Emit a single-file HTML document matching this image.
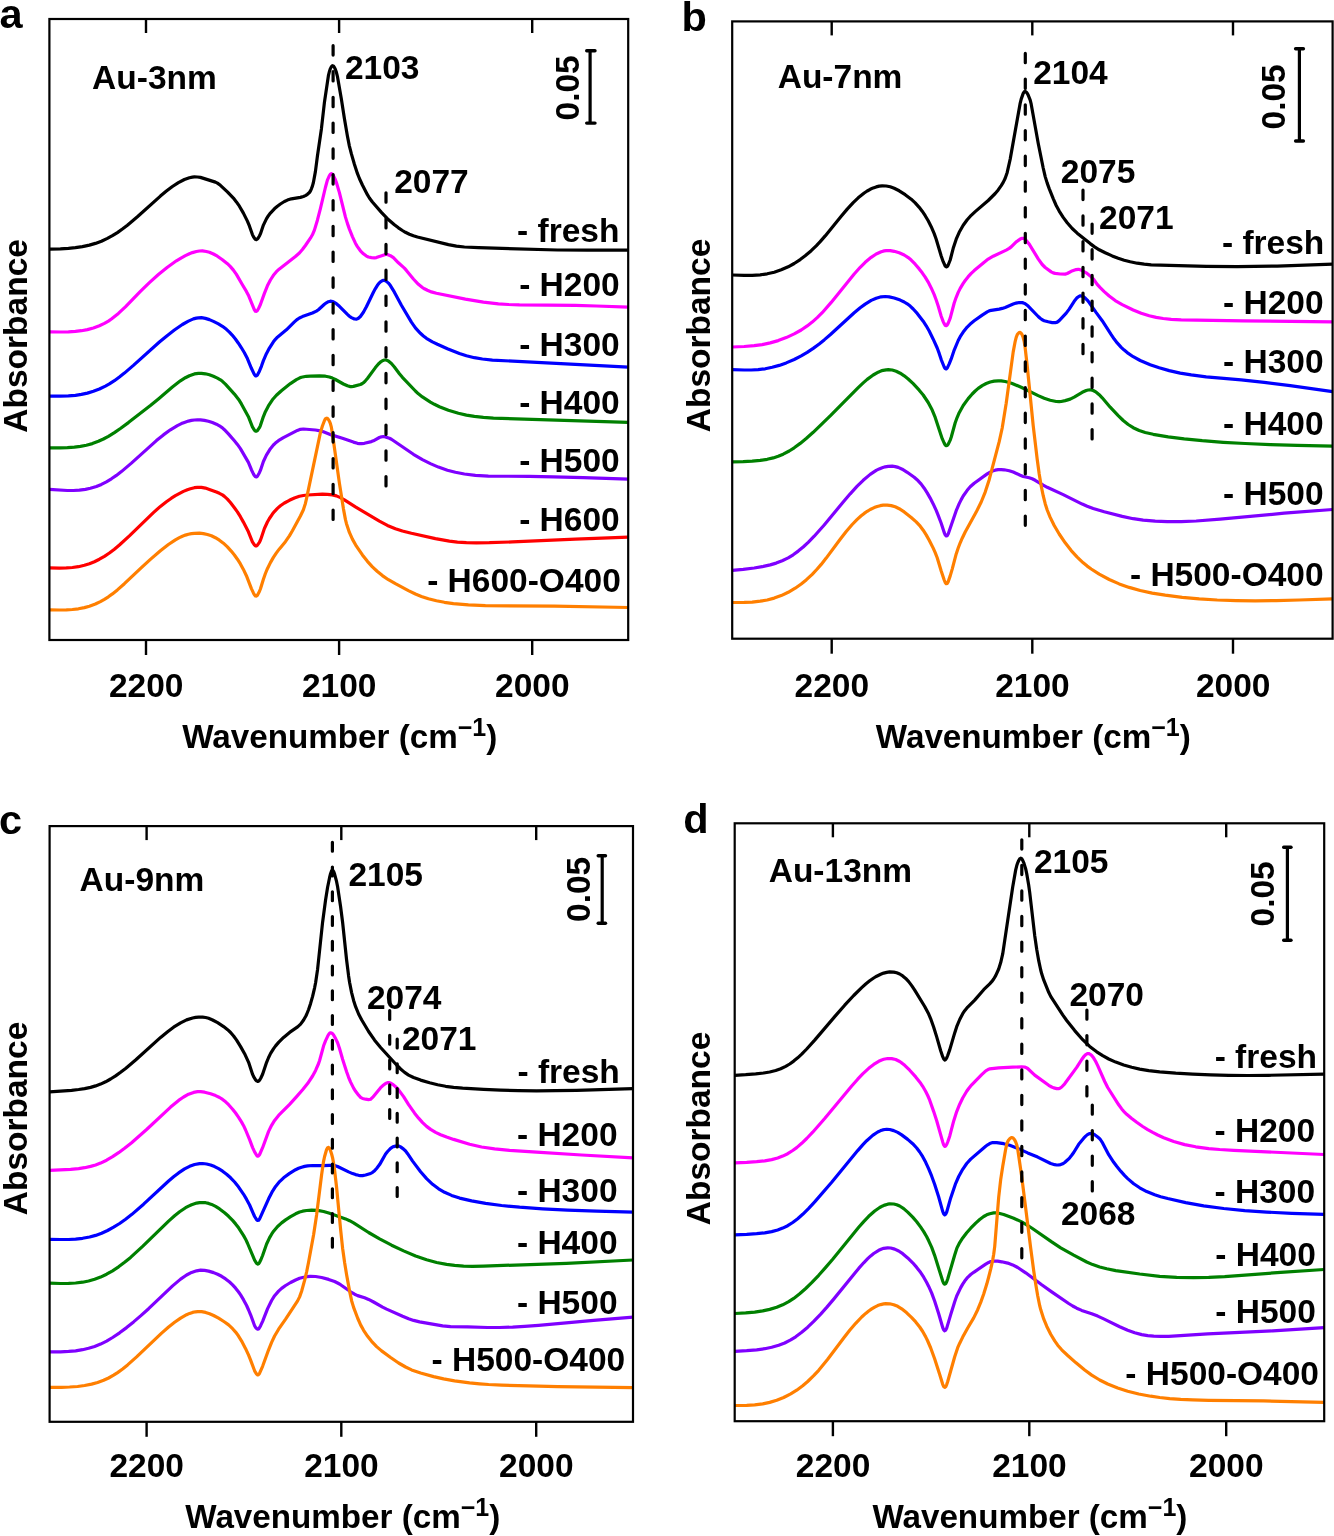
<!DOCTYPE html><html><head><meta charset="utf-8"><style>html,body{margin:0;padding:0;background:#fff}svg{display:block;will-change:transform}</style></head><body>
<svg width="1334" height="1536" viewBox="0 0 1334 1536" font-family="Liberation Sans, sans-serif" font-weight="bold" fill="#000">
<g id="panel-a">
<path d="M49.4,249.1 60.4,248.8 68.4,248.3 75.4,247.7 82.4,246.6 89.4,245.1 95.4,243.4 101.4,241.2 107.4,238.4 112.4,235.7 117.4,232.6 122.4,229.0 127.4,225.2 137.4,216.8 160.4,196.1 166.4,191.1 172.4,186.5 178.4,182.6 184.4,179.5 189.4,177.7 192.4,177.1 194.4,176.9 197.4,177.0 200.4,177.4 215.4,182.1 217.4,183.1 220.4,185.3 227.4,191.8 233.4,198.1 236.4,201.9 239.4,206.2 243.4,213.1 247.4,221.1 249.4,225.9 252.4,234.6 253.4,236.6 254.4,238.2 255.4,239.3 256.4,239.6 257.4,239.0 258.4,237.7 259.4,236.0 260.4,233.9 263.4,225.1 266.4,218.9 268.4,215.7 270.4,213.1 274.4,208.8 277.4,206.2 280.4,204.0 284.4,201.5 287.4,200.1 291.4,198.8 300.4,197.4 303.4,196.5 305.4,195.6 307.4,194.3 309.4,192.5 310.4,191.0 311.4,188.8 312.4,186.1 313.4,182.5 315.4,171.6 317.4,156.3 321.4,128.9 324.4,102.6 328.4,75.7 329.4,71.5 330.4,68.6 331.4,66.6 332.4,65.7 333.4,66.0 334.4,67.4 335.4,69.5 336.4,72.3 337.4,76.3 341.4,99.2 344.4,118.6 347.4,135.9 349.4,146.1 351.4,153.9 354.4,164.2 357.4,173.4 359.4,178.5 362.4,185.0 367.4,194.7 369.4,198.0 372.4,202.0 381.4,212.4 387.4,218.7 394.4,224.8 398.4,227.8 402.4,230.5 405.4,232.3 409.4,234.2 413.4,235.8 417.4,237.0 448.4,244.6 456.4,246.1 464.4,247.0 478.4,247.7 557.4,250.0 587.4,250.2 628.2,250.1" fill="none" stroke="#000000" stroke-width="3.2" stroke-linejoin="round"/>
<path d="M49.4,331.9 60.4,332.0 68.4,331.9 75.4,331.4 81.4,330.7 87.4,329.6 93.4,328.0 99.4,325.8 104.4,323.4 108.4,321.1 111.4,319.0 118.4,313.4 125.4,306.8 140.4,291.4 149.4,282.6 158.4,274.5 167.4,267.2 176.4,260.8 181.4,257.8 185.4,255.6 189.4,253.7 192.4,252.6 196.4,251.5 199.4,251.0 202.4,250.9 206.4,251.5 209.4,252.3 213.4,254.0 217.4,256.2 222.4,259.7 227.4,263.7 230.4,266.6 233.4,270.1 236.4,274.4 242.4,284.8 246.4,291.4 248.4,295.2 254.4,309.8 255.4,311.2 256.4,311.4 257.4,310.5 258.4,308.8 260.4,304.5 264.4,293.4 267.4,285.8 270.4,280.0 273.4,275.3 276.4,271.7 279.4,268.9 295.4,256.5 299.4,253.0 302.4,249.5 305.4,245.5 310.4,238.2 312.4,234.8 314.4,230.1 317.4,220.2 320.4,208.6 325.4,187.5 327.4,180.1 329.4,175.6 330.4,174.2 331.4,173.7 332.4,174.2 333.4,175.7 335.4,179.8 336.4,182.5 339.4,192.6 345.4,216.9 347.4,223.4 349.4,229.1 352.4,236.6 355.4,243.2 357.4,246.6 360.4,250.8 363.4,253.8 366.4,256.1 368.4,257.0 371.4,257.6 374.4,257.9 376.4,257.6 385.4,254.4 387.4,254.5 390.4,255.7 393.4,257.7 398.4,262.8 404.4,268.1 406.4,270.4 413.4,279.0 418.4,284.3 422.4,287.5 424.4,288.8 427.4,290.3 431.4,291.9 436.4,293.2 465.4,299.1 483.4,302.2 498.4,303.9 508.4,304.5 519.4,304.9 575.4,305.4 596.4,306.0 628.2,307.2" fill="none" stroke="#FF00FF" stroke-width="3.2" stroke-linejoin="round"/>
<path d="M49.4,396.2 60.4,396.2 68.4,395.9 75.4,395.3 81.4,394.4 87.4,393.1 93.4,391.3 99.4,389.0 105.4,386.1 109.4,383.9 114.4,380.7 119.4,377.0 124.4,373.1 133.4,365.4 159.4,342.0 167.4,335.4 174.4,330.0 182.4,324.5 188.4,321.1 193.4,318.9 196.4,318.1 198.4,317.8 201.4,317.7 205.4,318.4 209.4,319.6 213.4,321.4 218.4,323.9 222.4,326.3 226.4,329.3 229.4,332.1 232.4,335.3 235.4,339.0 238.4,343.2 241.4,347.8 244.4,352.8 247.4,358.6 251.4,368.3 254.4,374.6 255.4,375.8 256.4,375.9 257.4,375.0 259.4,371.2 261.4,366.3 263.4,360.6 266.4,353.7 269.4,348.1 273.4,341.8 275.4,339.3 277.4,337.2 286.4,329.8 294.4,321.9 297.4,319.3 299.4,318.0 302.4,316.6 312.4,313.0 316.4,311.1 318.4,309.7 324.4,304.3 326.4,302.8 328.4,301.7 330.4,301.2 331.4,301.3 333.4,301.9 336.4,303.7 339.4,306.3 347.4,314.4 349.4,316.2 351.4,317.6 354.4,319.0 356.4,319.1 357.4,318.8 358.4,318.3 360.4,316.5 363.4,312.3 366.4,306.8 373.4,292.3 375.4,288.6 377.4,285.3 379.4,282.8 380.4,281.8 382.4,280.6 383.4,280.4 384.4,280.4 386.4,281.4 388.4,283.1 390.4,285.6 394.4,292.2 401.4,305.2 411.4,322.1 415.4,327.8 420.4,333.3 423.4,336.0 426.4,338.3 432.4,341.9 437.4,344.3 447.4,348.7 459.4,353.5 466.4,355.8 474.4,357.7 482.4,359.0 492.4,360.1 628.2,367.1" fill="none" stroke="#0000FF" stroke-width="3.2" stroke-linejoin="round"/>
<path d="M49.4,447.9 60.4,447.9 67.4,447.7 74.4,447.2 80.4,446.4 86.4,445.2 92.4,443.6 98.4,441.3 103.4,439.0 108.4,436.3 114.4,432.6 120.4,428.5 128.4,422.6 150.4,405.5 158.4,398.9 172.4,387.0 180.4,380.8 185.4,377.7 189.4,375.7 194.4,373.9 198.4,373.3 201.4,373.3 205.4,373.8 209.4,374.8 213.4,376.3 217.4,378.1 220.4,379.8 222.4,381.3 225.4,384.1 234.4,394.1 239.4,400.6 241.4,403.9 248.4,416.7 252.4,426.9 254.4,430.1 255.4,431.1 256.4,431.2 257.4,430.6 259.4,427.7 260.4,425.6 263.4,416.6 265.4,411.7 268.4,405.9 272.4,399.8 276.4,395.3 281.4,390.7 290.4,383.6 296.4,379.6 299.4,378.1 301.4,377.3 306.4,376.3 310.4,376.1 319.4,375.9 325.4,376.2 329.4,377.0 332.4,378.1 335.4,379.5 343.4,384.0 347.4,385.8 350.4,386.6 351.4,386.7 353.4,386.4 360.4,384.5 362.4,383.5 363.4,382.8 365.4,380.8 367.4,378.5 375.4,367.6 378.4,364.0 380.4,362.1 382.4,360.7 384.4,360.0 385.4,360.0 386.4,360.1 388.4,361.0 391.4,363.5 394.4,367.0 399.4,373.7 402.4,377.3 415.4,391.0 418.4,393.8 422.4,396.9 430.4,402.1 434.4,404.3 439.4,406.7 448.4,410.3 458.4,413.3 466.4,415.1 474.4,416.4 483.4,417.4 493.4,418.1 628.2,422.3" fill="none" stroke="#008000" stroke-width="3.2" stroke-linejoin="round"/>
<path d="M49.4,489.3 67.4,490.5 73.4,490.5 79.4,490.2 85.4,489.4 90.4,488.3 96.4,486.5 101.4,484.4 106.4,481.8 111.4,478.8 116.4,475.4 121.4,471.6 131.4,463.1 156.4,440.6 163.4,434.9 170.4,429.8 177.4,425.6 181.4,423.6 184.4,422.4 188.4,421.1 191.4,420.4 194.4,420.0 197.4,419.9 200.4,419.9 204.4,420.4 208.4,421.3 212.4,422.6 216.4,424.2 219.4,425.8 222.4,427.9 224.4,429.7 228.4,433.9 234.4,440.8 237.4,444.4 240.4,448.6 248.4,462.4 251.4,469.7 253.4,473.9 254.4,475.6 255.4,476.8 256.4,477.0 257.4,476.2 259.4,472.7 260.4,470.4 263.4,461.5 266.4,455.1 270.4,448.7 273.4,445.0 275.4,443.1 278.4,440.7 283.4,437.6 297.4,430.4 300.4,429.3 303.4,429.0 315.4,430.0 320.4,430.9 323.4,431.8 331.4,434.9 342.4,438.3 353.4,442.1 357.4,443.3 359.4,443.6 361.4,443.7 364.4,443.3 371.4,441.6 373.4,440.8 379.4,437.5 381.4,436.8 383.4,436.5 385.4,436.9 389.4,438.3 391.4,439.3 413.4,454.3 422.4,459.6 430.4,463.6 438.4,467.1 447.4,470.2 455.4,472.3 464.4,474.0 475.4,475.4 488.4,476.1 529.4,476.4 553.4,476.8 583.4,477.6 628.2,479.1" fill="none" stroke="#7F00FF" stroke-width="3.2" stroke-linejoin="round"/>
<path d="M49.4,567.9 59.4,568.1 66.4,567.9 72.4,567.5 78.4,566.7 84.4,565.3 89.4,563.8 94.4,561.7 99.4,559.2 104.4,556.3 109.4,553.0 114.4,549.2 119.4,545.0 129.4,535.9 153.4,512.6 160.4,506.4 166.4,501.7 171.4,498.2 175.4,495.7 183.4,491.4 187.4,489.7 190.4,488.7 194.4,487.7 197.4,487.4 201.4,487.4 205.4,488.1 209.4,489.4 216.4,492.0 219.4,493.3 222.4,494.9 224.4,496.4 227.4,499.1 230.4,502.5 234.4,507.7 237.4,511.9 240.4,516.7 243.4,522.1 248.4,531.8 252.4,541.8 254.4,544.9 255.4,545.8 256.4,545.9 257.4,545.2 259.4,542.3 260.4,540.3 261.4,537.5 264.4,528.5 267.4,522.0 269.4,518.5 272.4,514.1 274.4,511.6 277.4,508.4 280.4,505.8 284.4,503.0 289.4,500.3 294.4,498.0 299.4,496.3 303.4,495.5 307.4,495.0 322.4,494.2 327.4,494.3 332.4,494.9 336.4,495.9 340.4,497.6 344.4,499.8 355.4,506.9 379.4,521.2 387.4,525.4 395.4,528.7 402.4,531.0 411.4,533.3 435.4,538.6 449.4,541.1 457.4,542.1 466.4,542.6 476.4,542.8 489.4,542.7 512.4,541.9 575.4,539.1 628.2,537.2" fill="none" stroke="#FF0000" stroke-width="3.2" stroke-linejoin="round"/>
<path d="M49.4,609.8 59.4,610.0 66.4,609.9 72.4,609.5 78.4,608.8 84.4,607.6 89.4,606.2 95.4,604.0 100.4,601.6 104.4,599.3 108.4,596.8 112.4,593.9 117.4,589.9 124.4,583.7 141.4,567.6 150.4,559.4 160.4,550.8 168.4,544.5 175.4,539.8 179.4,537.6 182.4,536.2 185.4,535.1 188.4,534.2 191.4,533.6 194.4,533.3 199.4,533.2 203.4,533.6 207.4,534.5 211.4,535.8 215.4,537.7 219.4,540.2 223.4,543.2 227.4,546.9 231.4,551.3 234.4,555.0 237.4,559.2 240.4,563.9 243.4,569.4 246.4,575.7 251.4,588.6 253.4,592.9 254.4,594.8 255.4,596.0 256.4,596.1 257.4,595.2 259.4,591.5 260.4,589.0 263.4,579.2 265.4,573.5 267.4,568.7 270.4,562.6 273.4,557.4 276.4,552.9 279.4,548.9 285.4,541.7 289.4,535.9 292.4,530.7 300.4,516.0 303.4,509.7 305.4,503.4 306.4,499.1 320.4,432.6 322.4,426.0 324.4,420.7 325.4,418.9 326.4,418.2 327.4,418.4 328.4,419.5 329.4,421.2 330.4,423.6 331.4,427.4 332.4,433.5 339.4,483.1 343.4,508.6 345.4,519.4 346.4,523.4 349.4,532.4 352.4,539.1 356.4,546.2 362.4,554.9 367.4,561.3 372.4,566.8 377.4,571.5 382.4,575.6 388.4,579.7 395.4,583.7 408.4,590.6 415.4,594.0 421.4,596.4 428.4,598.8 436.4,600.8 444.4,602.3 453.4,603.6 468.4,604.9 485.4,605.6 554.4,606.2 628.2,607.5" fill="none" stroke="#FF7F00" stroke-width="3.2" stroke-linejoin="round"/>
<line x1="333.1" y1="45.7" x2="333.1" y2="519.8" stroke="#000" stroke-width="3.2" stroke-linecap="round" stroke-dasharray="9.38 16.42" fill="none"/>
<line x1="386.0" y1="192.8" x2="386.0" y2="486.0" stroke="#000" stroke-width="3.2" stroke-linecap="round" stroke-dasharray="9.38 16.42" fill="none"/>
<rect x="49.4" y="19.0" width="578.8" height="621.0" fill="none" stroke="#000" stroke-width="2.2"/>
<line x1="146.0" y1="19.0" x2="146.0" y2="33.0" stroke="#000" stroke-width="2.4"/>
<line x1="146.0" y1="640.0" x2="146.0" y2="655.0" stroke="#000" stroke-width="2.4"/>
<line x1="339.1" y1="19.0" x2="339.1" y2="33.0" stroke="#000" stroke-width="2.4"/>
<line x1="339.1" y1="640.0" x2="339.1" y2="655.0" stroke="#000" stroke-width="2.4"/>
<line x1="532.2" y1="19.0" x2="532.2" y2="33.0" stroke="#000" stroke-width="2.4"/>
<line x1="532.2" y1="640.0" x2="532.2" y2="655.0" stroke="#000" stroke-width="2.4"/>
<text x="108.88" y="696.70" font-size="33.5">2200</text>
<text x="301.98" y="696.70" font-size="33.5">2100</text>
<text x="495.08" y="696.70" font-size="33.5">2000</text>
<text x="182.25" y="748.3" font-size="33.2">Wavenumber (cm<tspan font-size="25" dy="-12.6">−1</tspan><tspan dy="12.6">)</tspan></text>
<text transform="translate(27.32,432.68) rotate(-90)" font-size="33.5">Absorbance</text>
<text x="-0.55" y="27.90" font-size="41.5">a</text>
<text x="92.12" y="89.20" font-size="33.5">Au-3nm</text>
<text x="344.88" y="79.40" font-size="33.5">2103</text>
<text x="394.18" y="192.70" font-size="33.5">2077</text>
<text x="517.05" y="241.70" font-size="33.5">- fresh</text>
<text x="519.17" y="296.00" font-size="33.5">- H200</text>
<text x="519.17" y="355.90" font-size="33.5">- H300</text>
<text x="519.17" y="413.90" font-size="33.5">- H400</text>
<text x="519.17" y="471.50" font-size="33.5">- H500</text>
<text x="519.17" y="530.70" font-size="33.5">- H600</text>
<text x="427.15" y="591.90" font-size="33.5">- H600-O400</text>
<line x1="590.1" y1="50.8" x2="590.1" y2="123.1" stroke="#000" stroke-width="3.2"/>
<line x1="586.7" y1="50.8" x2="595.0" y2="50.8" stroke="#000" stroke-width="3.4" stroke-linecap="round"/>
<line x1="586.7" y1="123.1" x2="595.0" y2="123.1" stroke="#000" stroke-width="3.4" stroke-linecap="round"/>
<text transform="translate(579.02,120.45) rotate(-90)" font-size="33.5">0.05</text>
</g>
<g id="panel-b">
<path d="M732.2,275.0 744.2,275.4 752.2,275.4 760.2,274.8 767.2,273.8 774.2,272.2 781.2,269.8 788.2,266.8 794.2,263.5 800.2,259.6 805.2,255.8 811.2,250.7 816.2,245.8 820.2,241.6 825.2,235.9 841.2,216.2 847.2,209.1 853.2,202.6 858.2,197.8 864.2,193.0 867.2,191.0 870.2,189.3 873.2,187.9 876.2,186.9 879.2,186.1 882.2,185.8 886.2,186.0 890.2,186.8 894.2,188.3 899.2,190.8 905.2,194.7 911.2,199.2 915.2,202.9 919.2,207.3 922.2,211.2 925.2,215.7 928.2,220.8 931.2,226.7 934.2,233.6 936.2,239.2 941.2,256.0 943.2,261.7 945.2,266.0 946.2,266.9 947.2,266.5 948.2,265.0 950.2,260.0 953.2,248.3 956.2,239.2 959.2,232.3 963.2,225.3 967.2,219.8 971.2,215.3 975.2,211.6 988.2,200.5 995.2,193.5 998.2,189.9 1001.2,185.6 1003.2,182.4 1005.2,178.3 1007.2,172.4 1010.2,159.1 1020.2,103.1 1021.2,99.1 1023.2,93.4 1024.2,91.8 1025.2,91.4 1026.2,92.0 1027.2,93.3 1028.2,95.1 1030.2,100.1 1031.2,104.2 1038.2,143.2 1043.2,168.0 1045.2,176.6 1047.2,183.1 1049.2,188.6 1053.2,198.6 1056.2,205.5 1059.2,211.1 1063.2,217.4 1067.2,222.7 1072.2,228.5 1077.2,233.2 1090.2,243.6 1094.2,246.6 1099.2,249.8 1105.2,252.8 1112.2,255.9 1118.2,258.3 1124.2,260.2 1130.2,261.8 1137.2,263.2 1144.2,264.2 1151.2,264.8 1206.2,266.4 1237.2,266.7 1277.2,266.1 1332.6,264.2" fill="none" stroke="#000000" stroke-width="3.2" stroke-linejoin="round"/>
<path d="M732.2,347.0 744.2,346.5 754.2,345.7 762.2,344.6 770.2,342.9 778.2,340.6 786.2,337.6 794.2,333.9 801.2,330.0 807.2,325.9 812.2,322.1 817.2,317.6 822.2,312.7 831.2,302.4 854.2,274.0 860.2,267.3 865.2,262.3 871.2,257.3 876.2,254.0 881.2,251.7 884.2,250.9 886.2,250.6 890.2,250.6 894.2,251.3 899.2,252.8 904.2,255.0 908.2,257.6 911.2,260.1 915.2,264.2 919.2,268.9 922.2,272.8 925.2,277.2 928.2,282.1 931.2,287.9 934.2,294.6 936.2,300.0 938.2,306.0 941.2,316.2 943.2,321.6 944.2,323.7 945.2,325.3 946.2,325.7 947.2,324.9 948.2,323.1 950.2,318.1 954.2,303.0 956.2,297.3 958.2,292.4 960.2,288.4 963.2,283.4 965.2,280.5 968.2,276.7 971.2,273.4 974.2,270.6 984.2,262.2 988.2,259.1 993.2,256.2 1006.2,250.1 1009.2,248.4 1011.2,246.9 1016.2,241.8 1020.2,239.1 1022.2,238.3 1023.2,238.3 1024.2,238.7 1025.2,239.4 1029.2,244.1 1038.2,258.8 1042.2,264.5 1045.2,267.5 1051.2,271.9 1053.2,272.9 1055.2,273.4 1060.2,274.0 1065.2,274.1 1067.2,273.5 1071.2,271.3 1076.2,269.6 1078.2,269.3 1079.2,269.4 1081.2,270.1 1086.2,272.8 1090.2,275.9 1093.2,278.8 1097.2,284.4 1100.2,287.7 1104.2,291.6 1109.2,296.0 1115.2,300.6 1122.2,304.6 1133.2,310.0 1141.2,313.3 1149.2,315.8 1156.2,317.4 1163.2,318.5 1171.2,319.3 1181.2,319.8 1243.2,320.9 1332.6,321.9" fill="none" stroke="#FF00FF" stroke-width="3.2" stroke-linejoin="round"/>
<path d="M732.2,369.6 744.2,370.0 751.2,370.0 758.2,369.6 765.2,368.8 772.2,367.3 779.2,365.4 786.2,362.9 794.2,359.5 801.2,355.9 807.2,352.4 813.2,348.4 819.2,344.0 824.2,339.9 830.2,334.7 854.2,312.8 860.2,307.8 865.2,304.1 871.2,300.4 876.2,298.2 881.2,296.8 885.2,296.5 889.2,296.9 894.2,298.0 900.2,300.1 904.2,302.0 907.2,303.8 910.2,306.1 913.2,309.0 917.2,313.4 923.2,321.2 926.2,325.8 929.2,331.0 933.2,339.2 937.2,348.0 939.2,353.4 941.2,359.6 944.2,367.0 945.2,368.5 946.2,368.9 947.2,368.1 949.2,363.9 951.2,358.9 954.2,350.1 958.2,340.5 960.2,336.7 963.2,332.1 967.2,327.1 971.2,323.2 974.2,320.8 982.2,315.1 987.2,311.9 989.2,310.9 991.2,310.3 999.2,309.1 1002.2,308.4 1005.2,307.4 1013.2,304.1 1016.2,303.1 1019.2,302.5 1022.2,302.6 1023.2,302.9 1025.2,303.8 1028.2,306.1 1038.2,316.5 1040.2,318.3 1042.2,319.8 1044.2,320.7 1048.2,321.8 1052.2,322.6 1055.2,322.7 1057.2,322.1 1059.2,320.6 1066.2,313.1 1069.2,309.1 1074.2,301.3 1077.2,297.6 1079.2,296.2 1080.2,295.9 1081.2,295.9 1083.2,296.6 1085.2,298.1 1087.2,300.1 1089.2,302.6 1096.2,312.6 1102.2,320.7 1111.2,334.7 1114.2,339.1 1117.2,342.9 1121.2,347.3 1124.2,350.1 1127.2,352.6 1133.2,356.7 1140.2,360.5 1150.2,364.7 1159.2,367.8 1169.2,370.6 1180.2,373.1 1191.2,374.9 1206.2,376.8 1241.2,379.9 1264.2,382.3 1290.2,385.7 1332.6,391.7" fill="none" stroke="#0000FF" stroke-width="3.2" stroke-linejoin="round"/>
<path d="M732.2,461.9 743.2,461.6 752.2,461.1 760.2,460.4 767.2,459.3 773.2,457.9 778.2,456.3 783.2,454.2 789.2,451.0 794.2,447.8 800.2,443.4 806.2,438.5 813.2,432.3 830.2,415.9 858.2,387.6 863.2,382.9 867.2,379.4 873.2,375.0 878.2,372.2 881.2,370.9 883.2,370.3 886.2,369.8 888.2,369.7 892.2,370.0 896.2,371.2 900.2,373.2 904.2,375.8 908.2,379.0 913.2,383.7 919.2,390.2 923.2,395.0 928.2,402.5 932.2,410.1 935.2,417.4 942.2,438.7 944.2,443.1 945.2,444.9 946.2,445.7 947.2,445.5 948.2,444.3 950.2,440.1 951.2,437.3 955.2,422.8 957.2,417.3 959.2,412.7 963.2,405.5 968.2,398.6 972.2,394.0 975.2,391.0 978.2,388.4 982.2,385.6 986.2,383.5 990.2,382.0 994.2,381.1 998.2,380.8 1001.2,380.9 1005.2,381.5 1008.2,382.2 1012.2,383.5 1021.2,387.3 1038.2,395.6 1044.2,398.3 1050.2,400.3 1056.2,401.5 1059.2,401.7 1061.2,401.5 1065.2,400.6 1070.2,399.1 1074.2,397.1 1082.2,392.3 1086.2,390.5 1088.2,390.0 1090.2,389.8 1091.2,389.9 1093.2,390.5 1096.2,392.2 1099.2,394.7 1102.2,397.8 1110.2,407.2 1118.2,415.6 1123.2,420.5 1128.2,424.5 1133.2,427.7 1139.2,430.5 1145.2,432.5 1153.2,434.3 1168.2,436.8 1184.2,438.9 1202.2,440.7 1223.2,442.3 1245.2,443.5 1270.2,444.6 1297.2,445.3 1332.6,446.1" fill="none" stroke="#008000" stroke-width="3.2" stroke-linejoin="round"/>
<path d="M732.2,570.3 743.2,569.3 754.2,568.0 762.2,566.7 770.2,564.9 776.2,563.1 782.2,560.8 788.2,557.9 793.2,554.8 798.2,551.1 803.2,547.0 808.2,542.3 814.2,536.2 824.2,525.0 843.2,502.0 850.2,493.8 857.2,486.2 863.2,480.3 870.2,474.4 876.2,470.4 879.2,468.9 882.2,467.7 885.2,466.8 888.2,466.3 892.2,466.2 895.2,466.6 898.2,467.4 902.2,469.2 907.2,472.3 914.2,477.3 918.2,480.8 921.2,484.1 924.2,488.2 927.2,492.9 930.2,498.1 933.2,503.9 936.2,510.4 938.2,515.4 941.2,523.3 944.2,532.5 945.2,534.8 946.2,535.9 947.2,535.6 948.2,534.0 956.2,510.7 959.2,503.6 961.2,499.6 963.2,496.0 967.2,490.3 970.2,486.8 974.2,483.2 987.2,473.9 990.2,472.1 993.2,470.8 995.2,470.2 998.2,469.7 1001.2,469.6 1004.2,469.8 1009.2,470.7 1013.2,472.0 1020.2,475.3 1023.2,476.5 1029.2,477.8 1032.2,478.8 1035.2,480.3 1043.2,485.2 1047.2,487.3 1063.2,494.6 1082.2,504.1 1087.2,506.2 1093.2,508.5 1104.2,511.8 1122.2,516.4 1133.2,518.7 1143.2,520.2 1155.2,521.2 1167.2,521.7 1181.2,521.6 1196.2,521.0 1220.2,519.2 1284.2,513.2 1332.6,509.5" fill="none" stroke="#7F00FF" stroke-width="3.2" stroke-linejoin="round"/>
<path d="M732.2,602.5 744.2,602.4 752.2,602.1 760.2,601.2 767.2,600.0 774.2,598.1 781.2,595.6 788.2,592.3 795.2,588.2 801.2,584.0 806.2,579.9 812.2,574.3 817.2,569.0 821.2,564.4 826.2,558.1 840.2,539.3 846.2,531.5 852.2,524.5 857.2,519.4 861.2,515.8 864.2,513.4 867.2,511.3 870.2,509.5 874.2,507.6 877.2,506.5 880.2,505.7 883.2,505.2 887.2,505.1 891.2,505.6 895.2,506.8 899.2,508.7 904.2,511.9 911.2,517.5 916.2,521.9 920.2,526.2 923.2,530.2 926.2,534.9 929.2,540.2 933.2,548.1 935.2,552.6 937.2,557.8 941.2,571.0 944.2,580.0 945.2,582.4 946.2,583.7 947.2,583.4 948.2,581.6 950.2,575.9 952.2,569.1 956.2,553.9 958.2,548.0 960.2,542.8 962.2,538.2 965.2,532.0 976.2,512.1 981.2,502.0 985.2,492.1 989.2,479.7 999.2,441.7 1002.2,428.0 1006.2,403.2 1013.2,351.9 1015.2,341.3 1016.2,337.4 1017.2,334.8 1018.2,333.4 1019.2,332.6 1020.2,332.4 1021.2,333.2 1022.2,334.9 1023.2,337.5 1024.2,341.5 1025.2,348.2 1027.2,365.7 1033.2,425.7 1037.2,459.3 1039.2,474.0 1041.2,485.9 1043.2,495.7 1045.2,503.7 1047.2,510.0 1050.2,517.4 1054.2,525.5 1059.2,534.0 1065.2,542.8 1071.2,550.6 1077.2,557.1 1083.2,562.8 1087.2,566.1 1091.2,569.0 1099.2,574.2 1109.2,579.5 1119.2,583.9 1129.2,587.4 1140.2,590.5 1152.2,593.1 1165.2,595.2 1182.2,597.3 1199.2,598.9 1217.2,600.0 1236.2,600.6 1255.2,600.8 1276.2,600.6 1299.2,600.0 1332.6,598.8" fill="none" stroke="#FF7F00" stroke-width="3.2" stroke-linejoin="round"/>
<line x1="1025.3" y1="53.4" x2="1025.3" y2="525.4" stroke="#000" stroke-width="3.2" stroke-linecap="round" stroke-dasharray="9.34 16.36" fill="none"/>
<line x1="1083.0" y1="190.2" x2="1083.0" y2="353.9" stroke="#000" stroke-width="3.2" stroke-linecap="round" stroke-dasharray="9.34 16.36" fill="none"/>
<line x1="1092.1" y1="224.0" x2="1092.1" y2="438.9" stroke="#000" stroke-width="3.2" stroke-linecap="round" stroke-dasharray="9.34 16.36" fill="none"/>
<rect x="732.2" y="21.4" width="600.4" height="617.3" fill="none" stroke="#000" stroke-width="2.2"/>
<line x1="831.7" y1="21.4" x2="831.7" y2="35.4" stroke="#000" stroke-width="2.4"/>
<line x1="831.7" y1="638.7" x2="831.7" y2="653.7" stroke="#000" stroke-width="2.4"/>
<line x1="1032.3" y1="21.4" x2="1032.3" y2="35.4" stroke="#000" stroke-width="2.4"/>
<line x1="1032.3" y1="638.7" x2="1032.3" y2="653.7" stroke="#000" stroke-width="2.4"/>
<line x1="1233.0" y1="21.4" x2="1233.0" y2="35.4" stroke="#000" stroke-width="2.4"/>
<line x1="1233.0" y1="638.7" x2="1233.0" y2="653.7" stroke="#000" stroke-width="2.4"/>
<text x="794.58" y="696.70" font-size="33.5">2200</text>
<text x="995.17" y="696.70" font-size="33.5">2100</text>
<text x="1195.88" y="696.70" font-size="33.5">2000</text>
<text x="875.85" y="748.3" font-size="33.2">Wavenumber (cm<tspan font-size="25" dy="-12.6">−1</tspan><tspan dy="12.6">)</tspan></text>
<text transform="translate(710.12,432.27) rotate(-90)" font-size="33.5">Absorbance</text>
<text x="681.45" y="30.70" font-size="41.5">b</text>
<text x="777.73" y="88.40" font-size="33.5">Au-7nm</text>
<text x="1033.17" y="83.60" font-size="33.5">2104</text>
<text x="1060.78" y="182.80" font-size="33.5">2075</text>
<text x="1099.08" y="228.90" font-size="33.5">2071</text>
<text x="1221.95" y="254.00" font-size="33.5">- fresh</text>
<text x="1223.08" y="314.30" font-size="33.5">- H200</text>
<text x="1223.08" y="372.90" font-size="33.5">- H300</text>
<text x="1223.08" y="434.70" font-size="33.5">- H400</text>
<text x="1223.08" y="504.90" font-size="33.5">- H500</text>
<text x="1129.95" y="586.20" font-size="33.5">- H500-O400</text>
<line x1="1299.4" y1="48.7" x2="1299.4" y2="141.0" stroke="#000" stroke-width="3.2"/>
<line x1="1295.6" y1="48.7" x2="1303.4" y2="48.7" stroke="#000" stroke-width="3.4" stroke-linecap="round"/>
<line x1="1295.6" y1="141.0" x2="1303.4" y2="141.0" stroke="#000" stroke-width="3.4" stroke-linecap="round"/>
<text transform="translate(1285.03,129.45) rotate(-90)" font-size="33.5">0.05</text>
</g>
<g id="panel-c">
<path d="M49.6,1091.8 71.6,1090.3 78.6,1089.5 84.6,1088.6 90.6,1087.4 95.6,1085.9 100.6,1084.1 105.6,1081.8 110.6,1079.0 115.6,1075.9 120.6,1072.3 125.6,1068.5 135.6,1060.0 160.6,1037.4 167.6,1031.7 173.6,1027.2 180.6,1022.9 186.6,1019.9 192.6,1018.0 195.6,1017.4 198.6,1017.1 202.6,1017.1 205.6,1017.5 208.6,1018.3 212.6,1020.0 217.6,1022.7 223.6,1026.6 227.6,1029.7 230.6,1032.5 233.6,1036.0 236.6,1040.1 240.6,1046.6 244.6,1053.7 248.6,1062.3 252.6,1074.4 253.6,1076.6 255.6,1079.8 256.6,1080.9 257.6,1081.4 258.6,1081.1 259.6,1080.1 260.6,1078.5 262.6,1074.3 266.6,1062.3 268.6,1057.5 270.6,1053.4 273.6,1048.6 275.6,1045.9 278.6,1042.4 283.6,1037.4 289.6,1032.4 297.6,1026.9 300.6,1024.1 303.6,1020.0 305.6,1016.5 306.6,1014.5 308.6,1009.5 310.6,1003.4 312.6,996.4 314.6,987.8 315.6,982.7 317.6,969.2 322.6,922.2 325.6,899.7 327.6,887.2 329.6,877.5 330.6,873.5 331.6,870.8 332.6,870.1 333.6,871.4 334.6,874.1 336.6,881.7 337.6,886.7 340.6,906.7 342.6,922.3 346.6,960.0 348.6,975.9 349.6,982.5 351.6,992.6 353.6,1000.4 355.6,1006.7 358.6,1014.0 361.6,1019.8 368.6,1031.5 374.6,1040.2 380.6,1047.5 396.6,1065.0 400.6,1069.0 404.6,1072.4 408.6,1075.1 413.6,1077.5 420.6,1080.1 429.6,1082.7 437.6,1084.7 445.6,1086.3 453.6,1087.3 462.6,1088.1 483.6,1089.4 500.6,1090.1 518.6,1090.6 536.6,1090.8 555.6,1090.7 576.6,1090.3 633.0,1088.6" fill="none" stroke="#000000" stroke-width="3.2" stroke-linejoin="round"/>
<path d="M49.6,1170.3 70.6,1169.3 78.6,1168.6 84.6,1167.7 90.6,1166.4 95.6,1165.0 100.6,1163.1 106.6,1160.2 112.6,1156.7 118.6,1152.7 124.6,1148.3 131.6,1142.7 146.6,1129.5 170.6,1107.1 178.6,1100.4 183.6,1097.0 188.6,1094.2 193.6,1092.4 197.6,1091.7 200.6,1091.7 204.6,1092.2 210.6,1093.8 215.6,1095.6 219.6,1097.5 222.6,1099.4 225.6,1101.8 228.6,1104.7 232.6,1109.2 235.6,1113.0 238.6,1117.3 241.6,1122.1 243.6,1125.7 245.6,1130.0 249.6,1139.6 252.6,1147.6 254.6,1151.9 256.6,1155.3 257.6,1156.2 258.6,1155.9 259.6,1154.5 262.6,1147.7 268.6,1131.4 271.6,1125.3 274.6,1120.4 278.6,1115.4 289.6,1104.4 296.6,1096.7 302.6,1089.8 307.6,1083.6 312.6,1076.0 315.6,1070.4 318.6,1063.5 319.6,1060.5 323.6,1045.8 325.6,1040.6 327.6,1036.3 328.6,1034.5 329.6,1033.3 330.6,1032.8 331.6,1033.0 332.6,1033.8 333.6,1035.0 335.6,1038.6 337.6,1042.8 339.6,1048.7 342.6,1059.3 346.6,1071.7 348.6,1077.3 350.6,1082.1 353.6,1088.1 355.6,1091.3 358.6,1095.2 360.6,1097.3 362.6,1098.5 365.6,1099.2 368.6,1099.6 369.6,1099.5 370.6,1099.2 372.6,1097.4 380.6,1087.7 382.6,1085.8 385.6,1083.5 387.6,1082.6 388.6,1082.5 390.6,1083.0 392.6,1084.3 395.6,1086.7 398.6,1089.9 403.6,1096.6 408.6,1104.6 414.6,1113.2 418.6,1118.2 422.6,1122.6 426.6,1126.4 430.6,1129.4 435.6,1132.4 440.6,1134.7 446.6,1137.0 453.6,1139.4 469.6,1144.3 481.6,1147.0 494.6,1148.9 509.6,1150.4 536.6,1152.2 581.6,1155.0 633.0,1157.9" fill="none" stroke="#FF00FF" stroke-width="3.2" stroke-linejoin="round"/>
<path d="M49.6,1239.3 60.6,1239.5 68.6,1239.5 75.6,1239.1 82.6,1238.3 89.6,1237.0 95.6,1235.4 101.6,1233.2 107.6,1230.5 113.6,1227.2 119.6,1223.5 125.6,1219.2 131.6,1214.6 143.6,1204.2 168.6,1181.0 173.6,1176.8 178.6,1172.9 184.6,1168.9 189.6,1166.3 194.6,1164.5 199.6,1163.6 202.6,1163.5 206.6,1164.0 210.6,1165.0 214.6,1166.6 218.6,1168.7 222.6,1171.2 226.6,1174.2 230.6,1177.8 234.6,1182.0 237.6,1185.7 243.6,1194.3 246.6,1199.4 249.6,1205.0 254.6,1216.5 256.6,1219.7 257.6,1220.5 258.6,1220.3 259.6,1218.9 268.6,1198.8 272.6,1191.1 275.6,1186.4 279.6,1181.6 283.6,1177.8 289.6,1173.4 295.6,1169.7 298.6,1168.3 301.6,1167.2 304.6,1166.4 307.6,1165.9 312.6,1165.5 322.6,1165.6 329.6,1165.3 332.6,1165.3 334.6,1165.6 337.6,1166.5 348.6,1171.9 352.6,1173.6 355.6,1174.6 358.6,1175.3 360.6,1175.6 362.6,1175.6 365.6,1175.0 370.6,1173.5 372.6,1172.3 374.6,1170.7 376.6,1168.5 379.6,1164.6 385.6,1154.0 387.6,1151.5 390.6,1148.4 392.6,1147.0 393.6,1146.6 395.6,1146.1 397.6,1145.9 398.6,1146.0 400.6,1146.9 403.6,1149.1 405.6,1151.0 407.6,1153.7 412.6,1161.1 420.6,1171.7 426.6,1178.6 432.6,1184.3 438.6,1188.8 444.6,1192.3 451.6,1195.4 459.6,1198.1 471.6,1200.9 485.6,1203.4 501.6,1205.5 519.6,1207.2 542.6,1208.8 567.6,1210.1 596.6,1211.2 633.0,1212.2" fill="none" stroke="#0000FF" stroke-width="3.2" stroke-linejoin="round"/>
<path d="M49.6,1283.2 60.6,1283.5 68.6,1283.4 75.6,1283.0 82.6,1282.2 88.6,1281.0 94.6,1279.3 100.6,1277.1 106.6,1274.2 112.6,1270.8 118.6,1266.8 124.6,1262.3 130.6,1257.4 142.6,1246.4 168.6,1221.1 174.6,1215.8 179.6,1211.8 185.6,1207.7 188.6,1206.1 191.6,1204.7 196.6,1203.1 199.6,1202.6 201.6,1202.5 205.6,1202.7 208.6,1203.4 211.6,1204.4 215.6,1206.4 219.6,1208.9 224.6,1212.7 228.6,1216.3 232.6,1220.4 235.6,1223.9 238.6,1227.8 243.6,1235.6 245.6,1239.2 247.6,1243.5 254.6,1260.1 256.6,1263.3 257.6,1264.1 258.6,1263.8 259.6,1262.4 260.6,1260.3 262.6,1255.5 266.6,1244.0 269.6,1237.6 271.6,1234.2 273.6,1231.2 277.6,1226.5 281.6,1222.9 285.6,1219.9 290.6,1216.6 295.6,1213.8 299.6,1212.0 302.6,1211.2 306.6,1210.5 311.6,1210.1 317.6,1210.4 323.6,1211.5 329.6,1213.3 345.6,1218.9 349.6,1220.7 353.6,1222.8 368.6,1232.5 379.6,1238.9 391.6,1245.2 403.6,1250.9 415.6,1256.0 426.6,1259.8 436.6,1262.5 446.6,1264.4 454.6,1265.4 463.6,1266.1 472.6,1266.3 483.6,1266.1 566.6,1263.3 633.0,1260.0" fill="none" stroke="#008000" stroke-width="3.2" stroke-linejoin="round"/>
<path d="M49.6,1351.9 60.6,1351.8 68.6,1351.4 75.6,1350.8 82.6,1349.7 88.6,1348.3 94.6,1346.5 100.6,1344.1 106.6,1341.1 112.6,1337.5 119.6,1332.8 126.6,1327.6 133.6,1321.9 140.6,1315.9 148.6,1308.7 172.6,1285.9 180.6,1279.1 186.6,1275.0 191.6,1272.4 196.6,1270.8 200.6,1270.2 204.6,1270.4 208.6,1271.1 213.6,1272.6 217.6,1274.3 221.6,1276.3 225.6,1278.9 229.6,1282.0 232.6,1284.9 235.6,1288.2 238.6,1292.0 240.6,1294.9 243.6,1299.9 246.6,1305.5 248.6,1310.0 250.6,1314.8 254.6,1325.7 255.6,1327.4 256.6,1328.6 257.6,1329.2 258.6,1328.9 259.6,1327.6 260.6,1325.7 262.6,1321.3 267.6,1308.6 271.6,1300.5 274.6,1295.7 278.6,1291.1 281.6,1288.4 285.6,1285.5 290.6,1282.5 295.6,1280.0 299.6,1278.3 302.6,1277.5 306.6,1276.7 310.6,1276.4 315.6,1276.5 321.6,1277.5 328.6,1279.4 334.6,1281.5 337.6,1283.0 340.6,1284.7 350.6,1291.8 354.6,1294.2 357.6,1295.6 364.6,1297.8 368.6,1299.4 373.6,1302.0 382.6,1307.1 386.6,1309.1 402.6,1316.2 408.6,1318.7 413.6,1320.4 419.6,1321.9 442.6,1325.9 450.6,1326.6 467.6,1326.8 487.6,1327.5 499.6,1327.5 512.6,1327.1 524.6,1326.4 538.6,1325.4 593.6,1320.4 633.0,1317.1" fill="none" stroke="#7F00FF" stroke-width="3.2" stroke-linejoin="round"/>
<path d="M49.6,1387.3 61.6,1387.3 69.6,1387.0 77.6,1386.5 84.6,1385.5 91.6,1384.1 97.6,1382.5 103.6,1380.3 108.6,1378.0 113.6,1375.2 117.6,1372.6 122.6,1369.0 127.6,1364.9 136.6,1356.9 161.6,1333.1 168.6,1327.0 174.6,1322.3 180.6,1318.1 186.6,1314.7 189.6,1313.4 192.6,1312.4 195.6,1311.8 197.6,1311.6 201.6,1311.7 205.6,1312.4 209.6,1313.7 213.6,1315.5 218.6,1318.2 224.6,1322.0 228.6,1324.9 232.6,1328.7 235.6,1332.1 237.6,1334.7 241.6,1341.1 245.6,1348.7 248.6,1355.2 250.6,1360.1 254.6,1370.8 256.6,1374.1 257.6,1374.9 258.6,1374.6 259.6,1373.2 262.6,1366.3 268.6,1349.8 271.6,1342.4 274.6,1336.0 278.6,1329.2 285.6,1319.1 297.6,1300.9 299.6,1296.9 301.6,1291.2 304.6,1280.4 306.6,1272.0 308.6,1262.0 313.6,1234.8 316.6,1214.9 321.6,1174.7 323.6,1161.1 324.6,1156.5 326.6,1149.5 327.6,1147.7 328.6,1147.4 329.6,1148.6 330.6,1150.9 331.6,1154.0 332.6,1157.9 333.6,1163.2 334.6,1170.3 336.6,1187.5 340.6,1229.3 342.6,1248.2 344.6,1262.5 346.6,1274.7 349.6,1291.1 351.6,1300.7 353.6,1307.4 357.6,1318.0 360.6,1324.9 363.6,1330.3 367.6,1336.3 371.6,1341.3 376.6,1346.6 381.6,1350.9 390.6,1357.5 398.6,1363.0 405.6,1367.0 411.6,1369.9 420.6,1373.0 433.6,1376.6 443.6,1378.9 454.6,1380.8 469.6,1382.8 479.6,1383.8 488.6,1384.5 501.6,1385.1 528.6,1385.9 557.6,1386.6 633.0,1387.6" fill="none" stroke="#FF7F00" stroke-width="3.2" stroke-linejoin="round"/>
<line x1="332.4" y1="842.3" x2="332.4" y2="1247.4" stroke="#000" stroke-width="3.2" stroke-linecap="round" stroke-dasharray="8.88 15.87" fill="none"/>
<line x1="389.7" y1="1010.5" x2="389.7" y2="1118.5" stroke="#000" stroke-width="3.2" stroke-linecap="round" stroke-dasharray="8.88 15.87" fill="none"/>
<line x1="397.2" y1="1039.0" x2="397.2" y2="1196.5" stroke="#000" stroke-width="3.2" stroke-linecap="round" stroke-dasharray="8.88 15.87" fill="none"/>
<rect x="49.6" y="826.1" width="583.4" height="595.7" fill="none" stroke="#000" stroke-width="2.2"/>
<line x1="146.6" y1="826.1" x2="146.6" y2="840.1" stroke="#000" stroke-width="2.4"/>
<line x1="146.6" y1="1421.8" x2="146.6" y2="1436.8" stroke="#000" stroke-width="2.4"/>
<line x1="341.3" y1="826.1" x2="341.3" y2="840.1" stroke="#000" stroke-width="2.4"/>
<line x1="341.3" y1="1421.8" x2="341.3" y2="1436.8" stroke="#000" stroke-width="2.4"/>
<line x1="536.2" y1="826.1" x2="536.2" y2="840.1" stroke="#000" stroke-width="2.4"/>
<line x1="536.2" y1="1421.8" x2="536.2" y2="1436.8" stroke="#000" stroke-width="2.4"/>
<text x="109.47" y="1476.90" font-size="33.5">2200</text>
<text x="304.18" y="1476.90" font-size="33.5">2100</text>
<text x="499.08" y="1476.90" font-size="33.5">2000</text>
<text x="185.30" y="1528.4" font-size="33.2">Wavenumber (cm<tspan font-size="25" dy="-12.6">−1</tspan><tspan dy="12.6">)</tspan></text>
<text transform="translate(27.32,1215.28) rotate(-90)" font-size="33.5">Absorbance</text>
<text x="-0.93" y="834.20" font-size="41.5">c</text>
<text x="79.62" y="890.60" font-size="33.5">Au-9nm</text>
<text x="348.48" y="886.10" font-size="33.5">2105</text>
<text x="366.98" y="1009.00" font-size="33.5">2074</text>
<text x="401.88" y="1050.00" font-size="33.5">2071</text>
<text x="517.45" y="1082.60" font-size="33.5">- fresh</text>
<text x="516.98" y="1146.20" font-size="33.5">- H200</text>
<text x="516.98" y="1201.60" font-size="33.5">- H300</text>
<text x="516.98" y="1254.40" font-size="33.5">- H400</text>
<text x="516.98" y="1314.00" font-size="33.5">- H500</text>
<text x="431.55" y="1371.40" font-size="33.5">- H500-O400</text>
<line x1="602.2" y1="855.8" x2="602.2" y2="923.2" stroke="#000" stroke-width="3.2"/>
<line x1="598.2" y1="855.8" x2="605.5" y2="855.8" stroke="#000" stroke-width="3.4" stroke-linecap="round"/>
<line x1="598.2" y1="923.2" x2="605.5" y2="923.2" stroke="#000" stroke-width="3.4" stroke-linecap="round"/>
<text transform="translate(589.83,921.95) rotate(-90)" font-size="33.5">0.05</text>
</g>
<g id="panel-d">
<path d="M734.8,1075.3 745.7,1074.7 755.7,1073.9 763.7,1073.0 769.7,1072.0 775.7,1070.5 780.7,1068.8 785.7,1066.4 789.7,1064.0 793.7,1061.1 797.7,1057.8 801.7,1054.1 806.7,1049.0 814.7,1040.1 834.7,1016.6 844.7,1005.2 853.7,995.5 861.7,987.6 865.7,984.0 869.7,980.8 873.7,978.0 876.7,976.2 880.7,974.3 883.7,973.1 886.7,972.4 889.7,971.9 893.7,972.1 896.7,972.8 899.7,974.0 902.7,975.9 905.7,978.4 908.7,981.6 911.7,985.6 914.7,990.1 924.7,1006.5 928.7,1014.1 930.7,1018.8 933.7,1027.2 936.7,1036.9 940.7,1050.8 942.7,1056.7 943.7,1058.9 944.7,1060.0 945.7,1059.5 946.7,1057.9 947.7,1055.5 949.7,1049.9 954.7,1032.9 956.7,1026.7 959.7,1019.5 962.7,1013.7 964.7,1010.7 967.7,1007.1 974.7,1000.1 983.7,989.7 989.7,983.9 991.7,981.7 993.7,979.0 995.7,975.6 998.7,969.0 1000.7,962.6 1002.7,953.9 1012.7,887.0 1015.7,869.9 1016.7,865.8 1017.7,862.8 1018.7,860.5 1019.7,858.9 1020.7,858.2 1021.7,858.7 1022.7,860.3 1023.7,862.6 1025.7,868.9 1026.7,873.5 1028.7,885.3 1029.7,892.4 1034.7,935.5 1036.7,949.3 1038.7,960.7 1040.7,970.0 1041.7,973.8 1043.7,979.9 1048.7,992.3 1050.7,996.4 1062.7,1014.8 1066.7,1020.5 1074.7,1030.6 1082.7,1039.7 1089.7,1046.4 1096.7,1051.8 1102.7,1055.7 1108.7,1059.0 1115.7,1062.1 1123.7,1065.0 1131.7,1067.3 1139.7,1069.1 1148.7,1070.6 1159.7,1071.9 1175.7,1073.2 1192.7,1074.2 1210.7,1074.9 1228.7,1075.3 1247.7,1075.5 1268.7,1075.3 1324.0,1074.1" fill="none" stroke="#000000" stroke-width="3.2" stroke-linejoin="round"/>
<path d="M734.8,1162.9 746.7,1162.4 756.7,1161.7 764.7,1160.8 771.7,1159.6 777.7,1158.0 782.7,1156.1 787.7,1153.7 792.7,1150.5 796.7,1147.6 801.7,1143.3 806.7,1138.5 812.7,1132.2 824.7,1118.5 851.7,1086.0 857.7,1079.2 862.7,1073.9 868.7,1068.3 873.7,1064.4 878.7,1061.3 881.7,1060.0 883.7,1059.3 887.7,1058.5 891.7,1058.6 895.7,1059.5 899.7,1061.5 901.7,1062.9 904.7,1065.3 909.7,1070.2 915.7,1076.9 920.7,1083.3 922.7,1086.3 925.7,1091.5 927.7,1095.5 929.7,1100.2 933.7,1111.6 936.7,1120.8 942.7,1141.9 943.7,1144.9 944.7,1146.4 945.7,1146.0 946.7,1144.4 947.7,1142.0 949.7,1136.2 953.7,1120.9 956.7,1111.6 959.7,1104.2 962.7,1098.0 966.7,1091.3 968.7,1088.5 971.7,1084.8 981.7,1074.6 984.7,1071.8 986.7,1070.3 988.7,1069.2 989.7,1068.9 998.7,1067.9 1012.7,1067.1 1021.7,1066.9 1024.7,1067.0 1025.7,1067.4 1027.7,1068.5 1034.7,1075.1 1048.7,1085.3 1051.7,1087.0 1053.7,1087.9 1056.7,1088.6 1058.7,1088.6 1059.7,1088.3 1061.7,1087.0 1064.7,1083.8 1076.7,1067.4 1081.7,1059.5 1083.7,1056.7 1085.7,1054.6 1086.7,1054.0 1087.7,1053.6 1088.7,1053.6 1089.7,1054.0 1090.7,1054.6 1091.7,1055.5 1093.7,1058.1 1095.7,1061.5 1097.7,1065.6 1104.7,1081.5 1107.7,1087.5 1118.7,1104.8 1121.7,1108.9 1123.7,1111.3 1126.7,1114.3 1131.7,1118.5 1136.7,1122.3 1142.7,1126.5 1147.7,1129.6 1152.7,1132.4 1157.7,1135.0 1163.7,1137.7 1173.7,1141.5 1184.7,1144.6 1195.7,1146.8 1208.7,1148.6 1219.7,1149.5 1233.7,1150.3 1324.0,1154.5" fill="none" stroke="#FF00FF" stroke-width="3.2" stroke-linejoin="round"/>
<path d="M734.8,1234.9 746.7,1234.4 756.7,1233.7 764.7,1232.8 771.7,1231.6 777.7,1230.0 782.7,1228.1 787.7,1225.7 792.7,1222.5 797.7,1218.7 802.7,1214.3 808.7,1208.3 814.7,1201.9 831.7,1182.2 857.7,1150.6 862.7,1144.9 866.7,1140.7 872.7,1135.4 877.7,1132.0 880.7,1130.6 882.7,1129.9 884.7,1129.5 886.7,1129.3 889.7,1129.5 893.7,1130.6 897.7,1132.4 901.7,1134.9 907.7,1139.4 912.7,1143.7 916.7,1148.0 919.7,1152.0 922.7,1156.7 925.7,1162.3 928.7,1168.9 931.7,1176.2 934.7,1184.5 938.7,1197.0 942.7,1211.4 943.7,1213.8 944.7,1214.8 945.7,1214.2 946.7,1212.0 950.7,1197.9 955.7,1183.3 958.7,1176.5 962.7,1169.3 966.7,1163.5 970.7,1159.1 985.7,1146.3 987.7,1144.8 989.7,1143.6 992.7,1142.6 994.7,1142.5 996.7,1142.6 1003.7,1143.7 1009.7,1145.3 1016.7,1147.9 1027.7,1152.9 1037.7,1157.1 1050.7,1163.5 1054.7,1164.7 1056.7,1165.0 1058.7,1164.9 1060.7,1164.6 1062.7,1163.8 1064.7,1162.5 1067.7,1159.8 1069.7,1157.8 1071.7,1155.3 1073.7,1152.5 1078.7,1144.3 1083.7,1138.2 1085.7,1136.1 1087.7,1134.4 1089.7,1133.6 1090.7,1133.5 1092.7,1133.8 1094.7,1134.8 1097.7,1137.0 1099.7,1138.7 1100.7,1140.0 1102.7,1143.2 1108.7,1154.7 1113.7,1162.3 1116.7,1166.3 1120.7,1171.2 1124.7,1175.6 1127.7,1178.6 1133.7,1183.7 1139.7,1187.8 1146.7,1191.6 1154.7,1194.8 1160.7,1196.7 1167.7,1198.5 1185.7,1202.6 1203.7,1205.8 1223.7,1208.5 1244.7,1210.6 1266.7,1212.1 1291.7,1213.3 1324.0,1214.3" fill="none" stroke="#0000FF" stroke-width="3.2" stroke-linejoin="round"/>
<path d="M734.8,1313.5 745.7,1312.9 754.7,1312.1 762.7,1310.9 769.7,1309.4 776.7,1307.3 782.7,1304.8 788.7,1301.6 793.7,1298.4 799.7,1293.8 805.7,1288.5 811.7,1282.7 818.7,1275.3 825.7,1267.4 832.7,1259.2 858.7,1227.3 863.7,1221.6 868.7,1216.3 874.7,1211.0 879.7,1207.5 882.7,1205.9 884.7,1205.1 887.7,1204.2 889.7,1203.9 893.7,1204.0 896.7,1204.7 899.7,1206.0 903.7,1208.6 907.7,1212.1 912.7,1217.1 916.7,1221.7 920.7,1227.1 923.7,1231.6 926.7,1236.8 928.7,1240.8 931.7,1247.4 934.7,1255.6 942.7,1281.1 943.7,1283.3 944.7,1284.2 945.7,1283.6 946.7,1281.8 947.7,1279.0 954.7,1255.0 956.7,1248.7 957.7,1246.4 959.7,1242.6 962.7,1237.9 966.7,1232.7 970.7,1228.2 975.7,1223.1 979.7,1219.5 983.7,1216.5 986.7,1214.8 989.7,1213.7 993.7,1212.9 995.7,1212.9 998.7,1213.3 1003.7,1214.5 1013.7,1218.2 1021.7,1221.9 1026.7,1224.8 1031.7,1228.0 1051.7,1241.9 1060.7,1247.8 1073.7,1255.2 1086.7,1262.0 1092.7,1264.6 1099.7,1267.0 1106.7,1268.8 1115.7,1270.6 1139.7,1274.0 1159.7,1276.3 1176.7,1277.4 1193.7,1277.7 1208.7,1277.4 1224.7,1276.6 1280.7,1272.4 1324.0,1269.5" fill="none" stroke="#008000" stroke-width="3.2" stroke-linejoin="round"/>
<path d="M734.8,1351.4 746.7,1350.7 756.7,1349.8 764.7,1348.7 771.7,1347.3 778.7,1345.3 784.7,1343.0 790.7,1339.9 795.7,1336.8 801.7,1332.3 807.7,1327.2 813.7,1321.4 820.7,1314.1 826.7,1307.4 833.7,1299.1 858.7,1268.4 863.7,1262.8 867.7,1258.7 870.7,1255.9 873.7,1253.5 878.7,1250.3 881.7,1249.0 883.7,1248.3 887.7,1247.8 890.7,1248.0 894.7,1249.1 898.7,1251.0 902.7,1253.7 907.7,1257.9 912.7,1262.8 916.7,1267.4 920.7,1272.6 923.7,1277.2 926.7,1282.5 928.7,1286.4 931.7,1293.1 934.7,1301.2 938.7,1313.7 942.7,1327.5 943.7,1329.8 944.7,1330.8 945.7,1330.1 946.7,1328.1 950.7,1314.6 954.7,1301.8 956.7,1296.0 960.7,1287.6 962.7,1284.1 964.7,1281.1 967.7,1277.3 970.7,1274.5 973.7,1272.3 985.7,1264.2 988.7,1262.4 990.7,1261.6 992.7,1261.2 994.7,1261.1 997.7,1261.2 1001.7,1261.8 1007.7,1263.1 1012.7,1264.9 1017.7,1267.5 1025.7,1272.8 1041.7,1284.8 1051.7,1291.9 1068.7,1303.5 1072.7,1306.0 1076.7,1308.2 1081.7,1310.4 1091.7,1313.7 1097.7,1316.1 1103.7,1318.9 1119.7,1326.8 1127.7,1330.3 1134.7,1332.8 1141.7,1334.6 1147.7,1335.6 1153.7,1336.2 1160.7,1336.4 1168.7,1336.3 1207.7,1333.8 1272.7,1330.9 1324.0,1327.6" fill="none" stroke="#7F00FF" stroke-width="3.2" stroke-linejoin="round"/>
<path d="M734.8,1405.5 746.7,1405.3 754.7,1404.9 762.7,1403.9 769.7,1402.4 776.7,1400.3 783.7,1397.5 790.7,1393.9 796.7,1390.2 802.7,1385.7 807.7,1381.5 813.7,1375.7 818.7,1370.3 827.7,1359.3 843.7,1338.0 849.7,1330.3 855.7,1323.3 861.7,1317.0 865.7,1313.4 868.7,1311.0 871.7,1308.9 874.7,1307.1 877.7,1305.6 880.7,1304.6 883.7,1303.9 885.7,1303.7 889.7,1303.8 893.7,1304.7 897.7,1306.3 901.7,1308.8 906.7,1312.8 911.7,1317.6 915.7,1321.9 919.7,1327.0 922.7,1331.5 925.7,1336.9 927.7,1341.0 930.7,1348.0 934.7,1359.0 939.7,1374.4 942.7,1384.3 943.7,1386.5 944.7,1387.4 945.7,1386.7 946.7,1384.6 947.7,1381.5 954.7,1356.7 957.7,1347.7 959.7,1343.2 962.7,1337.1 967.7,1328.0 973.7,1317.9 977.7,1309.7 980.7,1302.4 983.7,1294.0 986.7,1284.3 988.7,1277.0 990.7,1269.1 992.7,1260.1 993.7,1254.3 994.7,1246.6 998.7,1197.1 1000.7,1179.5 1002.7,1166.5 1005.7,1149.0 1006.7,1144.4 1007.7,1141.6 1008.7,1139.9 1009.7,1138.7 1010.7,1137.9 1011.7,1137.5 1012.7,1137.7 1013.7,1138.6 1014.7,1140.0 1015.7,1142.0 1016.7,1144.7 1017.7,1149.1 1021.7,1176.6 1030.7,1248.1 1033.7,1270.7 1035.7,1284.0 1037.7,1295.8 1039.7,1305.7 1040.7,1309.6 1043.7,1318.9 1046.7,1326.2 1050.7,1334.2 1054.7,1340.9 1057.7,1345.2 1061.7,1349.8 1067.7,1355.5 1075.7,1362.6 1084.7,1370.0 1091.7,1375.1 1099.7,1380.0 1107.7,1384.0 1117.7,1388.0 1127.7,1391.2 1138.7,1394.0 1150.7,1396.2 1159.7,1397.5 1169.7,1398.6 1180.7,1399.4 1192.7,1399.9 1208.7,1400.3 1263.7,1400.9 1324.0,1402.4" fill="none" stroke="#FF7F00" stroke-width="3.2" stroke-linejoin="round"/>
<line x1="1021.8" y1="839.8" x2="1021.8" y2="1258.9" stroke="#000" stroke-width="3.2" stroke-linecap="round" stroke-dasharray="9.26 16.29" fill="none"/>
<line x1="1086.9" y1="1010.0" x2="1086.9" y2="1096.1" stroke="#000" stroke-width="3.2" stroke-linecap="round" stroke-dasharray="9.26 16.29" fill="none"/>
<line x1="1092.3" y1="1105.0" x2="1092.3" y2="1191.1" stroke="#000" stroke-width="3.2" stroke-linecap="round" stroke-dasharray="9.26 16.29" fill="none"/>
<rect x="734.7" y="823.3" width="589.5" height="597.9" fill="none" stroke="#000" stroke-width="2.2"/>
<line x1="832.9" y1="823.3" x2="832.9" y2="837.3" stroke="#000" stroke-width="2.4"/>
<line x1="832.9" y1="1421.2" x2="832.9" y2="1436.2" stroke="#000" stroke-width="2.4"/>
<line x1="1029.3" y1="823.3" x2="1029.3" y2="837.3" stroke="#000" stroke-width="2.4"/>
<line x1="1029.3" y1="1421.2" x2="1029.3" y2="1436.2" stroke="#000" stroke-width="2.4"/>
<line x1="1226.2" y1="823.3" x2="1226.2" y2="837.3" stroke="#000" stroke-width="2.4"/>
<line x1="1226.2" y1="1421.2" x2="1226.2" y2="1436.2" stroke="#000" stroke-width="2.4"/>
<text x="795.77" y="1476.90" font-size="33.5">2200</text>
<text x="992.17" y="1476.90" font-size="33.5">2100</text>
<text x="1189.08" y="1476.90" font-size="33.5">2000</text>
<text x="872.40" y="1528.4" font-size="33.2">Wavenumber (cm<tspan font-size="25" dy="-12.6">−1</tspan><tspan dy="12.6">)</tspan></text>
<text transform="translate(710.12,1225.28) rotate(-90)" font-size="33.5">Absorbance</text>
<text x="683.25" y="833.20" font-size="41.5">d</text>
<text x="768.73" y="881.60" font-size="33.5">Au-13nm</text>
<text x="1033.97" y="873.00" font-size="33.5">2105</text>
<text x="1069.38" y="1006.20" font-size="33.5">2070</text>
<text x="1060.88" y="1225.40" font-size="33.5">2068</text>
<text x="1214.65" y="1068.40" font-size="33.5">- fresh</text>
<text x="1214.58" y="1141.70" font-size="33.5">- H200</text>
<text x="1214.58" y="1202.80" font-size="33.5">- H300</text>
<text x="1215.28" y="1266.10" font-size="33.5">- H400</text>
<text x="1215.28" y="1323.10" font-size="33.5">- H500</text>
<text x="1125.35" y="1385.00" font-size="33.5">- H500-O400</text>
<line x1="1287.4" y1="847.2" x2="1287.4" y2="940.2" stroke="#000" stroke-width="3.2"/>
<line x1="1283.7" y1="847.2" x2="1291.0" y2="847.2" stroke="#000" stroke-width="3.4" stroke-linecap="round"/>
<line x1="1283.7" y1="940.2" x2="1291.0" y2="940.2" stroke="#000" stroke-width="3.4" stroke-linecap="round"/>
<text transform="translate(1273.83,926.45) rotate(-90)" font-size="33.5">0.05</text>
</g>
</svg></body></html>
